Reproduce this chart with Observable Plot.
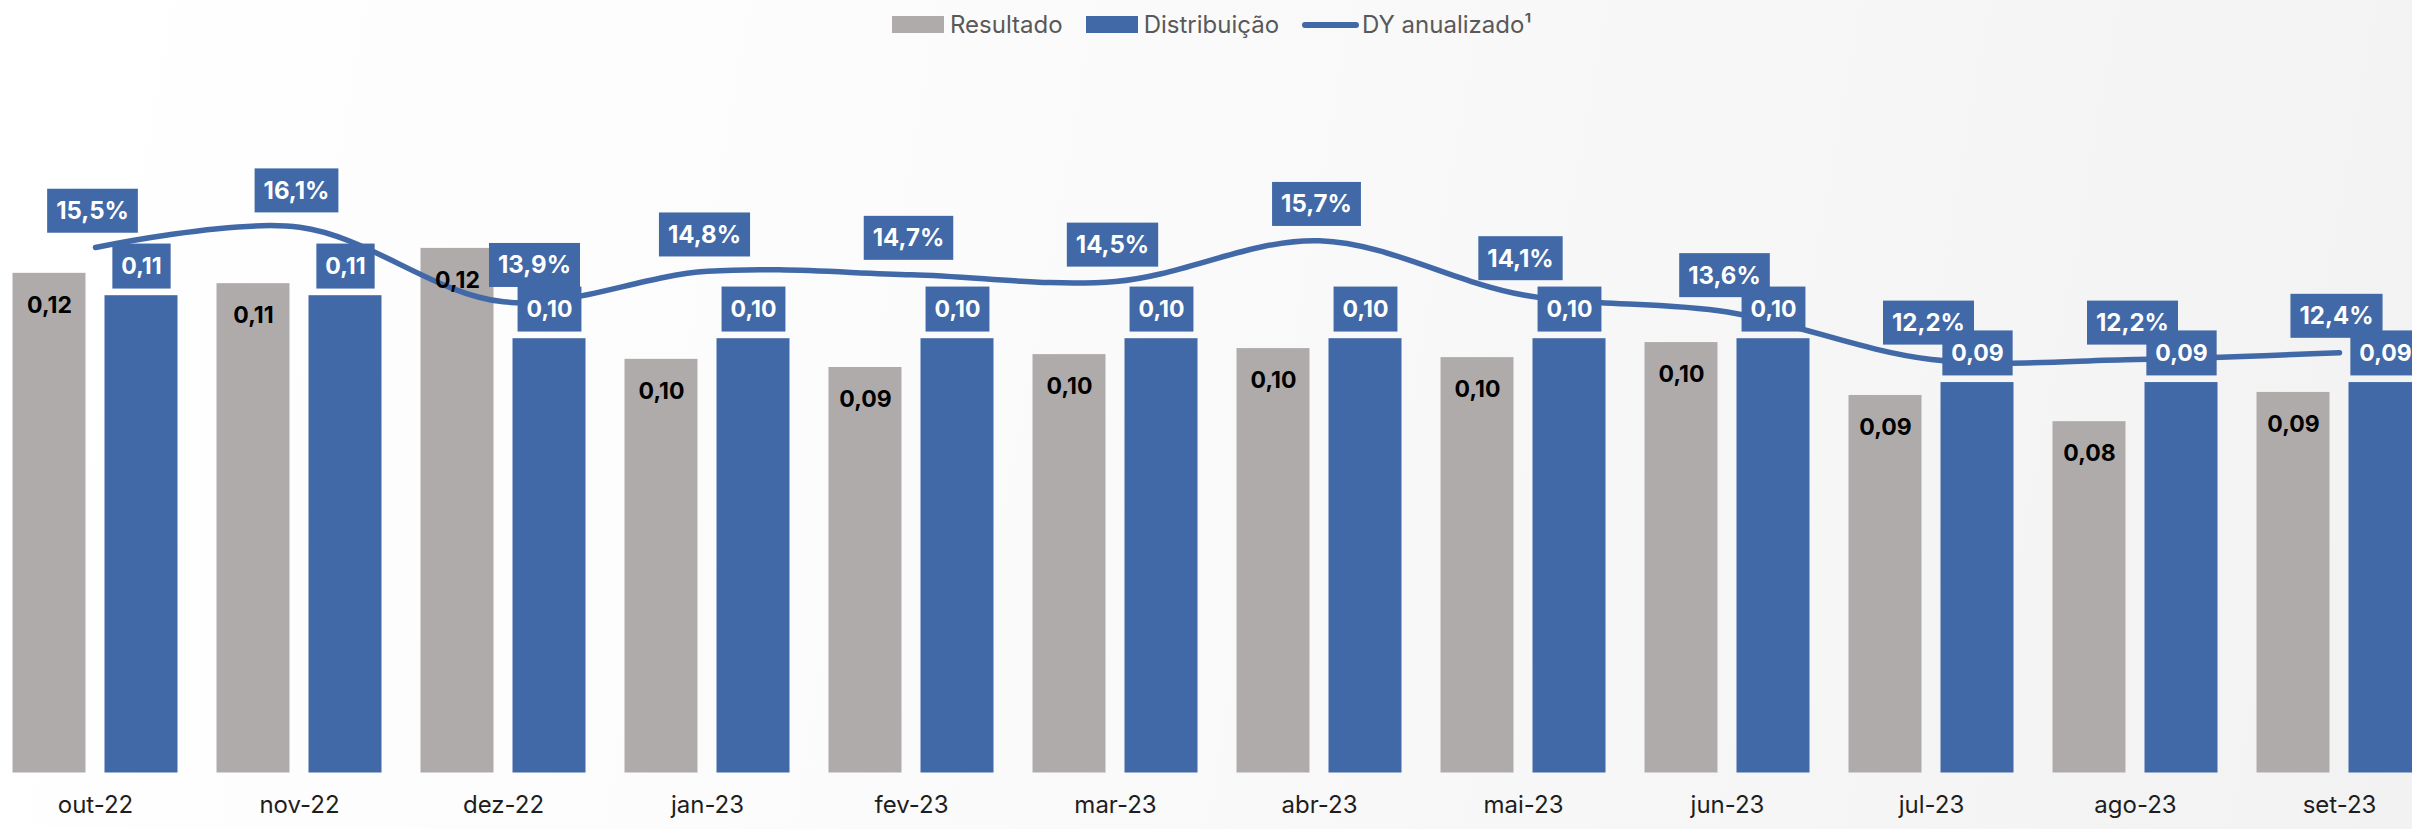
<!DOCTYPE html>
<html>
<head>
<meta charset="utf-8">
<script src="https://cdn.jsdelivr.net/npm/d3@7"></script>
<script src="https://cdn.jsdelivr.net/npm/@observablehq/plot@0.6"></script>
<style>
  html, body { margin: 0; padding: 0; overflow: hidden; width: 2412px; height: 829px; }
  body { background: linear-gradient(100deg, #ffffff 0%, #fbfbfb 40%, #f2f2f2 100%); font-family: Inter, "Open Sans", sans-serif; }
  #legend { height: 49px; display: flex; align-items: center; padding-left: 892px; font-size: 24px; color: #595959; }
  #legend .item { display: flex; align-items: center; margin-right: 23px; }
  #legend .sw { width: 52px; height: 17px; margin-right: 6px; }
  #legend .ln { width: 57px; height: 6px; border-radius: 3px; margin-right: 3px; }
</style>
</head>
<body>
<div id="legend"></div>
<div id="chart"></div>
<script>
// ---- data ----
const months = ["out-22","nov-22","dez-22","jan-23","fev-23","mar-23","abr-23","mai-23","jun-23","jul-23","ago-23","set-23"];
const resultado = [0.1162, 0.1138, 0.1220, 0.0962, 0.0943, 0.0973, 0.0987, 0.0966, 0.1001, 0.0878, 0.0817, 0.0885];
const distribuicao = [0.1110, 0.1110, 0.1010, 0.1010, 0.1010, 0.1010, 0.1010, 0.1010, 0.1010, 0.0908, 0.0908, 0.0908];
const dyAnualizado = [15.5, 16.1, 13.9, 14.8, 14.7, 14.5, 15.7, 14.1, 13.6, 12.2, 12.2, 12.4];
const seriesNames = ["Resultado", "Distribuição", "DY anualizado¹"];

const GREY = "#afabab", BLUE = "#4169a7";

// legend
const legend = document.getElementById("legend");
seriesNames.forEach((name, i) => {
  const it = document.createElement("div");
  it.className = "item";
  const sw = document.createElement("div");
  if (i < 2) { sw.className = "sw"; sw.style.background = i === 0 ? GREY : BLUE; }
  else { sw.className = "ln"; sw.style.background = BLUE; }
  it.appendChild(sw);
  const t = document.createElement("span");
  t.textContent = name;
  it.appendChild(t);
  legend.appendChild(it);
});

const rows = months.map((m, i) => ({month: m, res: resultado[i], dist: distribuicao[i], dy: dyAnualizado[i]}));
const shifted = "dez-22"; // DY label moved right in the original to clear the bar label

const H = 780, MB = 56.5;
const yMax = (H - MB) / 4300;
// secondary axis for DY (% -> primary y units)
const dyAxis = d3.scaleLinear().domain([0, (H - MB) / 33.9]).range([0, yMax]);

const fmt2 = v => v.toFixed(2).replace(".", ",");
const fmtPct = v => v.toFixed(1).replace(".", ",") + "%";

const step = 204.1;
const x0 = 12 - (step - 165) / 2;

const dyLabel = {x: "month", y: d => dyAxis(d.dy), text: d => fmtPct(d.dy), dy: -36, fill: "#fff", fontSize: 24, fontWeight: 700, className: "dybox"};

const chart = Plot.plot({
  width: 2412,
  height: H,
  marginTop: 0,
  marginBottom: MB,
  marginLeft: 0,
  marginRight: 0,
  style: {background: "transparent", fontFamily: "Inter, 'Open Sans', sans-serif", overflow: "visible"},
  x: {type: "band", domain: months, range: [x0, x0 + step * months.length], padding: 0, axis: null},
  y: {domain: [0, yMax], axis: null},
  marks: [
    Plot.barY(rows, {x: "month", y: "res", fill: GREY, insetLeft: 19.5, insetRight: 111.5}),
    Plot.barY(rows, {x: "month", y: "dist", fill: BLUE, insetLeft: 111.5, insetRight: 19.5}),
    Plot.line(rows, {x: "month", y: d => dyAxis(d.dy), stroke: BLUE, strokeWidth: 5.5, curve: "catmull-rom", strokeLinecap: "round"}),
    Plot.text(rows, {x: "month", y: "res", text: d => fmt2(d.res), dx: -46, dy: 32, fill: "#000", fontSize: 23, fontWeight: 700}),
    Plot.text(rows, {...dyLabel, filter: d => d.month !== shifted, dx: -3}),
    Plot.text(rows, {...dyLabel, filter: d => d.month === shifted, dx: 31}),
    Plot.text(rows, {x: "month", y: "dist", text: d => fmt2(d.dist), dx: 46, dy: -29, fill: "#fff", fontSize: 23, fontWeight: 700, className: "valbox"}),
    Plot.text(rows, {x: "month", text: "month", frameAnchor: "bottom", dy: 39.5, fill: "#1e1e1e", fontSize: 24, fontWeight: 400})
  ]
});
document.getElementById("chart").appendChild(chart);

// label boxes behind the library-placed texts
function addBoxes(cls, padX, h) {
  chart.querySelectorAll("g." + cls + " text").forEach(t => {
    const b = t.getBBox();
    const r = document.createElementNS("http://www.w3.org/2000/svg", "rect");
    const cy = b.y + b.height / 2;
    r.setAttribute("x", b.x - padX);
    r.setAttribute("y", cy - h / 2);
    r.setAttribute("width", b.width + 2 * padX);
    r.setAttribute("height", h);
    r.setAttribute("fill", BLUE);
    const tr = t.getAttribute("transform");
    if (tr) r.setAttribute("transform", tr);
    t.parentNode.insertBefore(r, t);
  });
}
addBoxes("dybox", 9, 44);
addBoxes("valbox", 9, 45);
</script>
</body>
</html>
